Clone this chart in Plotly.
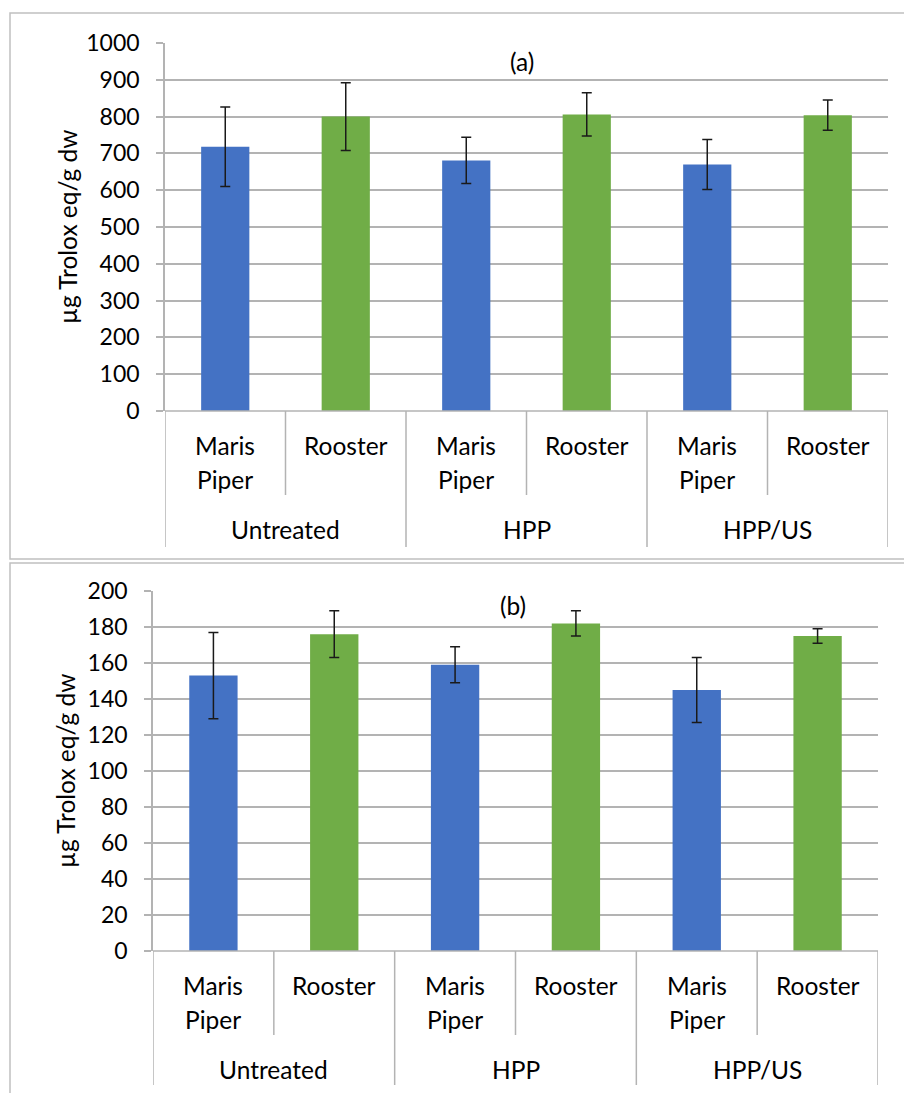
import plotly.graph_objects as go

# ---------------- data ----------------
treatments = ["Untreated", "HPP", "HPP/US"]
varieties = ["Maris<br>Piper", "Rooster"]
a_values = [718, 800, 681, 806, 670, 804]
a_errors = [108, 92, 63, 59, 68, 41]
b_values = [153, 176, 159, 182, 145, 175]
b_errors = [24, 13, 10, 7, 18, 4]
a_ticks = [0, 100, 200, 300, 400, 500, 600, 700, 800, 900, 1000]
b_ticks = [0, 20, 40, 60, 80, 100, 120, 140, 160, 180, 200]
y_title = "µg Trolox eq/g dw"
panel_titles = ["(a)", "(b)"]

W, H = 904, 1093
BLUE = "#4472C4"
GREEN = "#70AD47"
GRID = "#b3b3b3"
FONT = "Lato"
FS_TICK = 23
FS_LAB = 24.5


def px(x):
    return x / W


def py(y):
    return 1 - y / H


n = len(treatments) * len(varieties)
xs = list(range(n))
colors = [BLUE if i % 2 == 0 else GREEN for i in range(n)]

fig = go.Figure()

panels = [
    dict(vals=a_values, errs=a_errors, ticks=a_ticks, xa="x", ya="y",
         left=165, right=888, top=43, bottom=411, short=495, long=547,
         l1=445, l2=479, grp=529, title_x=522, title_y=62, ytx=68,
         box_top=13, box_bottom=559),
    dict(vals=b_values, errs=b_errors, ticks=b_ticks, xa="x2", ya="y2",
         left=153, right=878, top=591, bottom=951, short=1035, long=1085,
         l1=985, l2=1019, grp=1069, title_x=513, title_y=605, ytx=65,
         box_top=563, box_bottom=1110),
]

shapes = []
annotations = []
layout_axes = {}

for k, p in enumerate(panels):
    fig.add_trace(go.Bar(
        x=xs, y=p["vals"], width=0.4, marker=dict(color=colors, line=dict(width=0)),
        error_y=dict(type="data", array=p["errs"], visible=True, color="#1a1a1a",
                     thickness=1.5, width=5),
        xaxis=p["xa"], yaxis=p["ya"], showlegend=False, hoverinfo="skip",
    ))
    suffix = "" if k == 0 else "2"
    layout_axes["xaxis" + suffix] = dict(
        domain=[px(p["left"]), px(p["right"])], range=[-0.5, n - 0.5],
        showticklabels=False, showgrid=False, zeroline=False, showline=False,
        anchor="y" + suffix, fixedrange=True, automargin=False,
    )
    layout_axes["yaxis" + suffix] = dict(
        domain=[py(p["bottom"]), py(p["top"])],
        range=[p["ticks"][0], p["ticks"][-1]], tickvals=p["ticks"],
        showgrid=True, gridcolor=GRID, gridwidth=1.5, zeroline=False,
        showline=True, linecolor=GRID, linewidth=1.5,
        ticks="outside", ticklen=7, tickcolor=GRID, tickwidth=1.5,
        ticklabelstandoff=12,
        tickfont=dict(family=FONT, size=FS_TICK, color="#000"),
        anchor="x" + suffix, fixedrange=True, automargin=False,
    )
    xr = "x" + suffix
    # baseline (category axis line)
    shapes.append(dict(type="line", xref=xr, yref="paper", x0=-0.5, x1=n - 0.5,
                       y0=py(p["bottom"]), y1=py(p["bottom"]),
                       line=dict(color=GRID, width=1.5)))
    # dividers
    for j in range(n + 1):
        xpos = j - 0.5
        y_end = p["long"] if j % 2 == 0 else p["short"]
        shapes.append(dict(type="line", xref=xr, yref="paper", x0=xpos, x1=xpos,
                           y0=py(p["bottom"]), y1=py(y_end),
                           line=dict(color=GRID, width=1.5)))
    # variety labels
    for i in range(n):
        lines = varieties[i % 2].split("<br>")
        for li, txt in enumerate(lines):
            annotations.append(dict(
                x=i, y=py(p["l1"] if li == 0 else p["l2"]), xref=xr, yref="paper",
                text=txt, showarrow=False, xanchor="center", yanchor="middle",
                font=dict(family=FONT, size=FS_LAB, color="#000")))
    # treatment labels
    for g, t in enumerate(treatments):
        annotations.append(dict(
            x=2 * g + 0.5, y=py(p["grp"]), xref=xr, yref="paper",
            text=t, showarrow=False, xanchor="center", yanchor="middle",
            font=dict(family=FONT, size=FS_LAB, color="#000")))
    # panel title
    annotations.append(dict(
        x=px(p["title_x"]), y=py(p["title_y"]), xref="paper", yref="paper",
        text=panel_titles[k], showarrow=False, xanchor="center", yanchor="middle",
        font=dict(family=FONT, size=FS_LAB, color="#000")))
    # y axis title
    annotations.append(dict(
        x=px(p["ytx"]), y=py((p["top"] + p["bottom"]) / 2), xref="paper", yref="paper",
        text=y_title, showarrow=False, textangle=-90, xanchor="center", yanchor="middle",
        font=dict(family=FONT, size=FS_LAB, color="#000")))
    # panel border
    shapes.append(dict(type="rect", xref="paper", yref="paper",
                       x0=px(10), x1=px(W + 5), y0=py(p["box_bottom"]), y1=py(p["box_top"]),
                       line=dict(color="#c0c0c0", width=1.5), layer="below"))

fig.update_layout(
    width=W, height=H, margin=dict(l=0, r=0, t=0, b=0, pad=0, autoexpand=False),
    paper_bgcolor="white", plot_bgcolor="white",
    shapes=shapes, annotations=annotations, showlegend=False,
    **layout_axes,
)

post = (
    "document.body.style.margin='0';"
    "document.body.style.padding='0';"
    "document.body.style.overflow='hidden';"
    "var d=document.getElementById('{plot_id}');"
    "d.style.position='fixed';d.style.left='0px';d.style.top='0px';"
)

fig.write_html("out.html", post_script=post, config={"displayModeBar": False})
